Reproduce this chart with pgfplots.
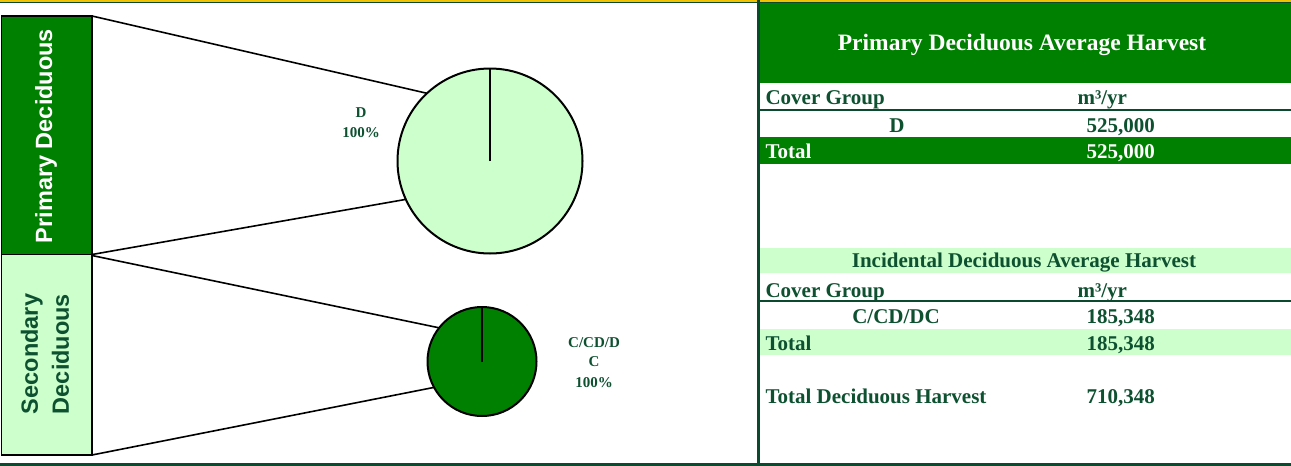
\documentclass[border=0pt]{standalone}
\usepackage{fontspec}
\setmainfont{Liberation Serif}
\newfontfamily\arialfont{Liberation Sans}
\usepackage{pgfplots}
\pgfplotsset{compat=1.18}
\definecolor{bandgreen}{HTML}{008000}
\definecolor{lightgreen}{HTML}{CCFFCC}
\definecolor{darkgreen}{HTML}{0B4A2E}
\definecolor{txtgreen}{HTML}{0E5131}
\definecolor{goldline}{HTML}{F2C200}
\begin{document}
\begin{tikzpicture}
\begin{axis}[
  scale only axis, width=1291pt, height=466pt,
  xmin=0, xmax=1291, ymin=0, ymax=466, y dir=reverse,
  hide axis, clip=false,
  every node/.append style={inner sep=0pt, outer sep=0pt},
]
% page background and frame lines
\fill[white] (axis cs:0,0) rectangle (axis cs:1291,466);
\fill[goldline] (axis cs:0,0) rectangle (axis cs:1291,1.5);
\fill[darkgreen] (axis cs:0,1.5) rectangle (axis cs:1291,3);
\fill[darkgreen] (axis cs:0,463) rectangle (axis cs:1291,466);
\fill[darkgreen] (axis cs:757,0) rectangle (axis cs:759.5,466);

% left category bars
\filldraw[fill=bandgreen, draw=black, line width=1.5pt] (axis cs:1.5,16) rectangle (axis cs:92,254.5);
\filldraw[fill=lightgreen, draw=black, line width=1.5pt] (axis cs:1.5,254.5) rectangle (axis cs:92,455);
\node[rotate=90, text=white, font=\arialfont\bfseries\fontsize{23.5}{26}\selectfont] at (axis cs:46,136) {Primary Deciduous};
\node[rotate=90, align=center, text=txtgreen, font=\arialfont\bfseries\fontsize{23.5}{31}\selectfont] at (axis cs:45,354) {Secondary\\Deciduous};

% connector lines
\addplot[black, line width=1.6pt] coordinates {(92,16) (430,94)};
\addplot[black, line width=1.6pt] coordinates {(92,254.5) (408,199)};
\addplot[black, line width=1.6pt] coordinates {(92,255.5) (440,328)};
\addplot[black, line width=1.6pt] coordinates {(92,455) (436,387)};

% pie 1: D 100%  (centre 490,161; radius 92.5)
\filldraw[fill=lightgreen, draw=black, line width=2pt] (axis cs:490,161) circle[radius=92.5pt];
\addplot[black, line width=2.3pt] coordinates {(490,161) (490,68)};
% pie 2: C/CD/DC 100%  (centre 482,361.5; radius 54.5)
\filldraw[fill=bandgreen, draw=black, line width=2pt] (axis cs:482,361.5) circle[radius=54.5pt];
\addplot[black, line width=2.3pt] coordinates {(482,361.5) (482,306)};

% pie labels
\begin{scope}[every node/.append style={text=txtgreen, anchor=base, font=\bfseries\fontsize{15}{18}\selectfont}]
\node at (axis cs:361,117) {D};
\node at (axis cs:361,137) {100\%};
\node at (axis cs:594,347) {C/CD/D};
\node at (axis cs:594,366) {C};
\node at (axis cs:594,387) {100\%};
\end{scope}

% right table: primary
\fill[bandgreen] (axis cs:759.5,3) rectangle (axis cs:1291,83);
\node[anchor=base, text=white, font=\bfseries\fontsize{23.5}{27}\selectfont] at (axis cs:1022,50) {Primary Deciduous Average Harvest};
\begin{scope}[every node/.append style={font=\bfseries\fontsize{21}{25}\selectfont}]
\node[anchor=base west, text=txtgreen] at (axis cs:762,104) {Cover Group};
\node[anchor=base west, text=txtgreen] at (axis cs:1074,104) {m³/yr};
\fill[darkgreen] (axis cs:759.5,109) rectangle (axis cs:1291,111);
\node[anchor=base, text=txtgreen] at (axis cs:897,132) {D};
\node[anchor=base west, text=txtgreen] at (axis cs:1083,132) {525,000};
\fill[bandgreen] (axis cs:759.5,137) rectangle (axis cs:1291,164);
\node[anchor=base west, text=white] at (axis cs:762,158) {Total};
\node[anchor=base west, text=white] at (axis cs:1083,158) {525,000};

% right table: incidental
\fill[lightgreen] (axis cs:759.5,248) rectangle (axis cs:1291,273);
\node[anchor=base, text=txtgreen] at (axis cs:1024,267) {Incidental Deciduous Average Harvest};
\node[anchor=base west, text=txtgreen] at (axis cs:762,297) {Cover Group};
\node[anchor=base west, text=txtgreen] at (axis cs:1074,297) {m³/yr};
\fill[darkgreen] (axis cs:759.5,299.5) rectangle (axis cs:1291,301.5);
\node[anchor=base, text=txtgreen] at (axis cs:896,323) {C/CD/DC};
\node[anchor=base west, text=txtgreen] at (axis cs:1083,323) {185,348};
\fill[lightgreen] (axis cs:759.5,329) rectangle (axis cs:1291,355);
\node[anchor=base west, text=txtgreen] at (axis cs:762,350) {Total};
\node[anchor=base west, text=txtgreen] at (axis cs:1083,350) {185,348};
\node[anchor=base west, text=txtgreen] at (axis cs:762,403) {Total Deciduous Harvest};
\node[anchor=base west, text=txtgreen] at (axis cs:1083,403) {710,348};
\end{scope}
\end{axis}
\end{tikzpicture}
\end{document}
